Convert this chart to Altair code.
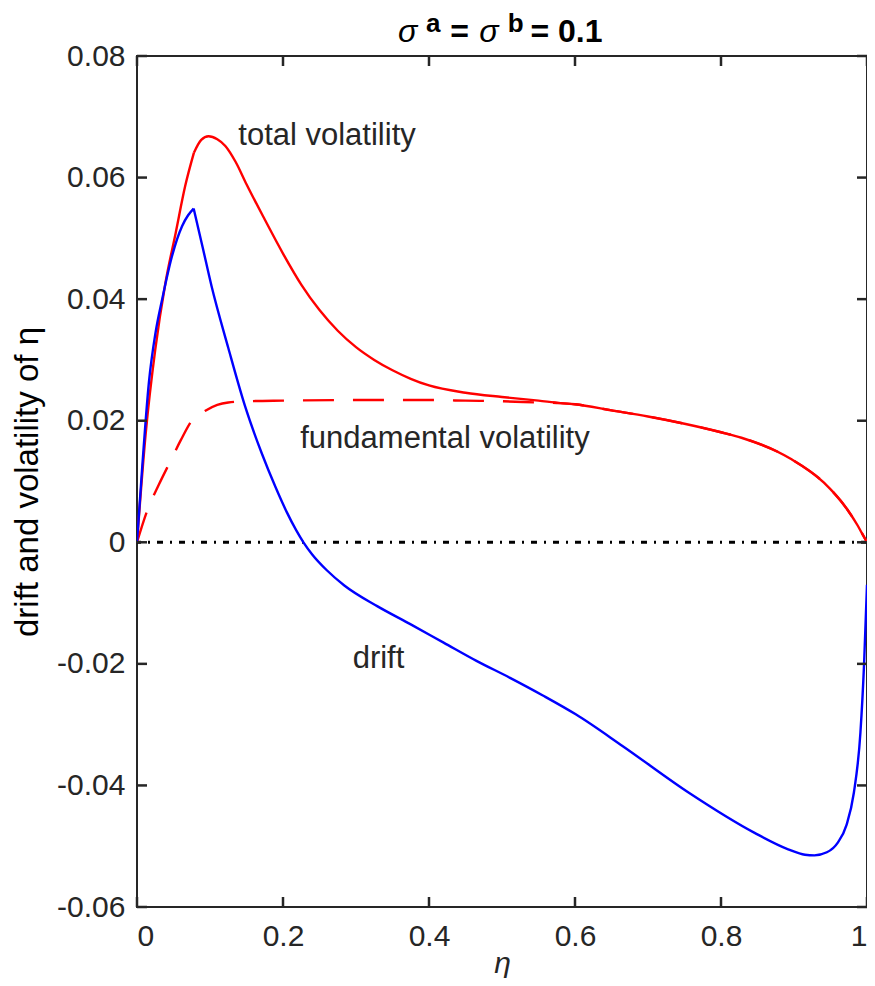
import altair as alt
import pandas as pd

# ---- data ----
eta_total = [0, 0.012, 0.025, 0.039, 0.053, 0.066, 0.078, 0.088, 0.098, 0.11, 0.121,
             0.135, 0.15, 0.175, 0.2, 0.225, 0.25, 0.275, 0.3, 0.325, 0.35, 0.375, 0.4,
             0.45, 0.5, 0.55, 0.58, 0.6, 0.65, 0.7, 0.75, 0.8, 0.828, 0.896, 0.941, 0.973,
             0.987, 0.993, 1.0]
total_vol = [0, 0.018, 0.0317, 0.0427, 0.0509, 0.0586, 0.0641, 0.0662, 0.0668, 0.0663, 0.0652,
             0.0626, 0.0589, 0.0531, 0.0475, 0.0424, 0.0382, 0.0348, 0.0321, 0.0300, 0.0283,
             0.0269, 0.0258, 0.0246, 0.0239, 0.0233, 0.0229, 0.0227, 0.0217, 0.0207, 0.0195,
             0.0181, 0.0172, 0.0137, 0.0098, 0.0054, 0.0028, 0.0015, 0.0]
total_kink = 0.078

eta_fund = [0, 0.014, 0.03, 0.046, 0.06, 0.075, 0.093, 0.11, 0.125, 0.15, 0.2, 0.3, 0.4,
            0.45, 0.5, 0.55, 0.58, 0.6, 0.65, 0.7, 0.75, 0.8, 0.828, 0.896, 0.941, 0.973,
            0.987, 0.993, 1.0]
fund_vol = [0, 0.0052, 0.0095, 0.0134, 0.0168, 0.0200, 0.0216, 0.0226, 0.0230, 0.0232, 0.0233,
            0.0234, 0.0234, 0.0233, 0.0232, 0.0230, 0.0229, 0.0227, 0.0217, 0.0207, 0.0195,
            0.0181, 0.0172, 0.0137, 0.0098, 0.0054, 0.0028, 0.0015, 0.0]

eta_drift = [0, 0.0073, 0.0163, 0.0254, 0.0345, 0.048, 0.0617, 0.07, 0.0776, 0.09, 0.102,
             0.125, 0.148, 0.171, 0.19, 0.205, 0.218, 0.228, 0.24, 0.26, 0.284, 0.329, 0.375,
             0.42, 0.465, 0.511, 0.556, 0.601, 0.665, 0.756, 0.846, 0.892, 0.915, 0.928, 0.945,
             0.96, 0.972, 0.982, 0.991, 0.996, 1.0]
drift = [0, 0.0126, 0.0263, 0.0345, 0.040, 0.0471, 0.052, 0.0538, 0.0549, 0.0485, 0.0422,
         0.0320, 0.0224, 0.0146, 0.0090, 0.0050, 0.0020, 0.0, -0.0020, -0.0046, -0.0071,
         -0.0105, -0.0135, -0.0165, -0.0195, -0.0223, -0.0252, -0.0283, -0.0335, -0.0412,
         -0.0478, -0.0505, -0.0514, -0.0515, -0.0510, -0.0494, -0.0465, -0.0412, -0.0313,
         -0.020, -0.007]
drift_peak = 0.0776

x_ticks = [0, 0.2, 0.4, 0.6, 0.8, 1.0]
y_ticks = [-0.06, -0.04, -0.02, 0, 0.02, 0.04, 0.06, 0.08]

label_text = ["total volatility", "fundamental volatility", "drift"]
label_x = [0.2603, 0.4219, 0.3308]
label_y = [0.0653, 0.01546, -0.0206]

# title pieces: sigma^a = sigma^b = 0.1
title_text = ["σ", "a", "=", "σ", "b", "= 0.1"]
title_x = [0.3575, 0.3960, 0.4290, 0.4690, 0.5080, 0.5390]
title_y = [0.08225, 0.0839, 0.08225, 0.08225, 0.0839, 0.08225]
title_kind = ["sym", "sup", "txt", "sym", "sup", "txt"]

W, H = 730, 851
FONT = "Liberation Sans"
INK = "#262626"


def segmented(xs, ys, split):
    rows = []
    for x, y in zip(xs, ys):
        if x <= split:
            rows.append({"x": x, "y": y, "seg": 0})
        if x >= split:
            rows.append({"x": x, "y": y, "seg": 1})
    return pd.DataFrame(rows)


df_total = segmented(eta_total, total_vol, total_kink)
df_fund = pd.DataFrame({"x": eta_fund, "y": fund_vol})
df_drift = segmented(eta_drift, drift, drift_peak)
df_lab = pd.DataFrame({"x": label_x, "y": label_y, "t": label_text})
df_title = pd.DataFrame({"x": title_x, "y": title_y, "t": title_text, "k": title_kind})
df_xt = pd.DataFrame({"t": x_ticks})
df_yt = pd.DataFrame({"t": y_ticks})
df_zero = pd.DataFrame({"y": [0.0]})

xscale = alt.Scale(domain=[0, 1], nice=False, zero=False)
yscale = alt.Scale(domain=[-0.06, 0.08], nice=False, zero=False)

xaxis = alt.Axis(values=x_ticks, ticks=False, tickSize=0, domain=False, grid=False,
                 labelFont=FONT, labelFontSize=30, labelColor=INK, labelPadding=14,
                 labelExpr="datum.value == 0 ? '0' : (datum.value == 1 ? '1' : format(datum.value, '.1f'))",
                 title="η", titleFont=FONT, titleFontSize=30, titleFontStyle="italic",
                 titleFontWeight="normal", titleColor=INK, titlePadding=-3)
yaxis = alt.Axis(values=y_ticks, ticks=False, tickSize=0, domain=False, grid=False,
                 labelFont=FONT, labelFontSize=30, labelColor=INK, labelPadding=12,
                 labelExpr="abs(datum.value) < 1e-9 ? '0' : (datum.value < 0 ? '-' + format(-datum.value, '.2f') : format(datum.value, '.2f'))",
                 title="drift and volatility of η", titleFont=FONT, titleFontSize=33,
                 titleFontWeight="normal", titleColor="#000000", titlePadding=12)


def X(f):
    return alt.X(f, type="quantitative", scale=xscale, axis=xaxis)


def Y(f):
    return alt.Y(f, type="quantitative", scale=yscale, axis=yaxis)


LW = 2.4
total_line = alt.Chart(df_total).mark_line(color="#ff0000", strokeWidth=LW, interpolate="monotone", clip=True).encode(
    x=X("x"), y=Y("y"), detail="seg:N")
fund_line = alt.Chart(df_fund).mark_line(color="#ff0000", strokeWidth=LW, interpolate="monotone",
                                         strokeDash=[31, 19], clip=True).encode(x=X("x"), y=Y("y"))
drift_line = alt.Chart(df_drift).mark_line(color="#0000ff", strokeWidth=LW, interpolate="monotone", clip=True).encode(
    x=X("x"), y=Y("y"), detail="seg:N")
zero_line = alt.Chart(df_zero).mark_rule(color="#000000", strokeWidth=3, strokeDash=[6, 7, 2, 7]).encode(y=Y("y"))

labels = alt.Chart(df_lab).mark_text(font=FONT, fontSize=31, color=INK, align="center", baseline="alphabetic").encode(
    x=X("x"), y=Y("y"), text="t:N")

t_sym = alt.Chart(df_title).transform_filter("datum.k == 'sym'").mark_text(
    font=FONT, fontSize=32, fontStyle="italic", color="#000000", align="left", baseline="alphabetic").encode(
    x=X("x"), y=Y("y"), text="t:N")
t_sup = alt.Chart(df_title).transform_filter("datum.k == 'sup'").mark_text(
    font=FONT, fontSize=26, fontWeight="bold", color="#000000", align="left", baseline="alphabetic").encode(
    x=X("x"), y=Y("y"), text="t:N")
t_txt = alt.Chart(df_title).transform_filter("datum.k == 'txt'").mark_text(
    font=FONT, fontSize=32, fontWeight="bold", color="#000000", align="left", baseline="alphabetic").encode(
    x=X("x"), y=Y("y"), text="t:N")

tick_kw = dict(color=INK, strokeWidth=2.5)
bottom_ticks = alt.Chart(df_xt).mark_rule(**tick_kw).encode(x=X("t"), y=alt.value(H), y2=alt.value(H - 10))
top_ticks = alt.Chart(df_xt).mark_rule(**tick_kw).encode(x=X("t"), y=alt.value(0), y2=alt.value(10))
left_ticks = alt.Chart(df_yt).mark_rule(**tick_kw).encode(y=Y("t"), x=alt.value(0), x2=alt.value(10))
right_ticks = alt.Chart(df_yt).mark_rule(**tick_kw).encode(y=Y("t"), x=alt.value(W), x2=alt.value(W - 10))

chart = alt.layer(
    zero_line, fund_line, total_line, drift_line, labels,
    t_sym, t_sup, t_txt,
    bottom_ticks, top_ticks, left_ticks, right_ticks,
).properties(
    width=W, height=H,
    autosize=alt.AutoSizeParams(type="none"),
    padding={"left": 129, "top": 48, "right": 0, "bottom": 71},
).configure_view(stroke=INK, strokeWidth=2)

chart.save("out.html", embed_options={"renderer": "svg", "actions": False})
